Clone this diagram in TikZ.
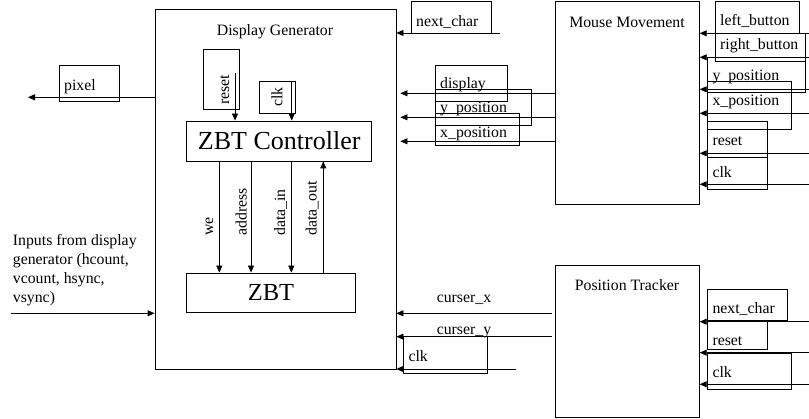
\documentclass[tikz,border=0pt]{standalone}
\usepackage{fontspec}
\setmainfont{Liberation Serif}
\usetikzlibrary{arrows.meta,fit}
\begin{document}
\begin{tikzpicture}[x=1pt,y=-1pt,
  box/.style={draw, line width=0.8pt, inner sep=0pt},
  lbl/.style={draw, line width=0.8pt, inner sep=0pt},
  txt/.style={inner sep=0pt, font=\fontsize{15.8}{19}\selectfont},
  arr/.style={line width=0.8pt, -{Triangle[length=7pt,width=6pt]}}]
\useasboundingbox (0,0) rectangle (809,419);

% ---- Display Generator ----
\node[box, fit={(155,9) (396,369)}] (dg) {};
\node[txt, anchor=base] (dgt) at (275,36) {Display Generator};
\node[box, minimum width=185pt, minimum height=40pt] (zc) at (279.2,141) {\fontsize{26}{30}\selectfont ZBT Controller};
\node[box, minimum width=168.6pt, minimum height=39.7pt] (zbt) at (271,292.85) {\fontsize{24.5}{28}\selectfont ZBT};

\node[lbl, fit={(203,49) (239,109)}] (rstb) {};
\node[txt, rotate=90, anchor=base west] (rstt) at (229,104.7) {reset};
\node[lbl, fit={(259.3,81) (295.7,113)}] (clkb) {};
\node[txt, rotate=90, anchor=base west] (clkt) at (282.4,107) {clk};
\coordinate (rsts) at (235,73);
\coordinate (clks) at (291.7,81);
\draw[arr] (rsts) -- (rsts |- zc.north);
\draw[arr] (clks) -- (clks |- zc.north);

\coordinate (we) at (219.3,0);
\coordinate (ad) at (251,0);
\coordinate (di) at (291.3,0);
\coordinate (do) at (323.3,0);
\draw[arr] (we |- zc.south) -- (we |- zbt.north);
\draw[arr] (ad |- zc.south) -- (ad |- zbt.north);
\draw[arr] (di |- zc.south) -- (di |- zbt.north);
\draw[arr] (do |- zbt.north) -- (do |- zc.south);
\node[txt, rotate=90, anchor=base west] (wet) at (213,236) {we};
\node[txt, rotate=90, anchor=base west] (adt) at (246.5,236) {address};
\node[txt, rotate=90, anchor=base west] (dit) at (285,236) {data\_in};
\node[txt, rotate=90, anchor=base west] (dot) at (316.7,236) {data\_out};

% ---- pixel / inputs ----
\node[lbl, fit={(59.3,65) (119.3,101)}] (pixb) {};
\node[txt, anchor=base west] (pixt) at (64,91) {pixel};
\coordinate (pixo) at (28,97.3);
\draw[arr] (dg.west |- pixo) -- (pixo);

\node[txt, anchor=north west, align=left] (inp) at (12.7,234) {Inputs from display\\generator (hcount,\\vcount, hsync,\\vsync)};
\coordinate (inps) at (11,313.3);
\draw[arr] (inps) -- (dg.west |- inps);

% ---- next_char (top) ----
\node[lbl, fit={(411,1.7) (491.3,33)}] (ncb) {};
\node[txt, anchor=base west] (nct) at (416,27) {next\_char};
\coordinate (ncs) at (500,33);
\draw[arr] (ncs) -- (dg.east |- ncs);

% ---- Mouse Movement ----
\node[box, fit={(555,1) (699.3,204.3)}] (mm) {};
\node[txt, anchor=base] (mmt) at (627,27.3) {Mouse Movement};

\node[lbl, fit={(435.7,65) (507.3,101)}] (dispb) {};
\node[txt, anchor=base west] (dispt) at (440,89) {display};
\node[lbl, fit={(435.7,89.3) (531.7,125.3)}] (ypb) {};
\node[txt, anchor=base west] (ypt) at (440,113) {y\_position};
\node[lbl, fit={(435.7,113.3) (519.3,145.3)}] (xpb) {};
\node[txt, anchor=base west] (xpt) at (440,137.7) {x\_position};
\coordinate (d1) at (0,93.3);
\coordinate (d2) at (0,117.3);
\coordinate (d3) at (0,141.3);
\draw[arr, shorten >=4pt] (mm.west |- d1) -- (dg.east |- d1);
\draw[arr, shorten >=4pt] (mm.west |- d2) -- (dg.east |- d2);
\draw[arr, shorten >=4pt] (mm.west |- d3) -- (dg.east |- d3);

\node[lbl, fit={(715.7,1.3) (799.3,33.3)}] (lbb) {};
\node[txt, anchor=base west] (lbt) at (720,25.7) {left\_button};
\node[lbl, fit={(715.7,33.3) (805,61.3)}] (rbb) {};
\node[txt, anchor=base west] (rbt) at (720,50) {right\_button};
\node[lbl, fit={(707,57.3) (805,92.7)}] (mypb) {};
\node[txt, anchor=base west] (mypt) at (712.3,81) {y\_position};
\node[lbl, fit={(707,81) (791.3,129.3)}] (mxpb) {};
\node[txt, anchor=base west] (mxpt) at (712.3,105.7) {x\_position};
\node[lbl, fit={(707,121) (767.3,157.3)}] (mrsb) {};
\node[txt, anchor=base west] (mrst) at (712.3,145.7) {reset};
\node[lbl, fit={(707,157.3) (767.3,189.3)}] (mckb) {};
\node[txt, anchor=base west] (mckt) at (712.3,177.7) {clk};
\coordinate (m1) at (809,33.3);
\coordinate (m2) at (809,57.3);
\coordinate (m3) at (809,89.3);
\coordinate (m4) at (809,113.3);
\coordinate (m5) at (809,153.3);
\coordinate (m6) at (809,184.3);
\foreach \c in {m1,m2,m3,m4,m5,m6}{\draw[arr] (\c) -- (mm.east |- \c);}

% ---- Position Tracker ----
\node[box, fit={(555,265.3) (699.3,417.3)}] (pt) {};
\node[txt, anchor=base] (ptt) at (627,291) {Position Tracker};
\node[lbl, fit={(707.3,289.3) (787.3,320.7)}] (pncb) {};
\node[txt, anchor=base west] (pnct) at (712.3,313.7) {next\_char};
\node[lbl, fit={(707.3,321.7) (767.3,349)}] (prsb) {};
\node[txt, anchor=base west] (prst) at (712.3,345.7) {reset};
\node[lbl, fit={(707.3,353.3) (791.3,389)}] (pckb) {};
\node[txt, anchor=base west] (pckt) at (712.3,377.7) {clk};
\coordinate (p1) at (809,321.7);
\coordinate (p2) at (809,352.7);
\coordinate (p3) at (809,384.3);
\foreach \c in {p1,p2,p3}{\draw[arr] (\c) -- (pt.east |- \c);}

% ---- curser / clk into DG ----
\node[txt, anchor=base] (cxt) at (464,302.3) {curser\_x};
\node[txt, anchor=base] (cyt) at (464,334.3) {curser\_y};
\coordinate (c1) at (551.7,313.3);
\coordinate (c2) at (551.7,336.7);
\draw[arr] (c1) -- (dg.east |- c1);
\draw[arr] (c2) -- (dg.east |- c2);
\node[lbl, fit={(403.3,336.7) (487.3,373.3)}] (dckb) {};
\node[txt, anchor=base west] (dckt) at (408.3,361.7) {clk};
\coordinate (c3) at (515.7,369);
\draw[arr] (c3) -- (dg.east |- c3);
\end{tikzpicture}
\end{document}
